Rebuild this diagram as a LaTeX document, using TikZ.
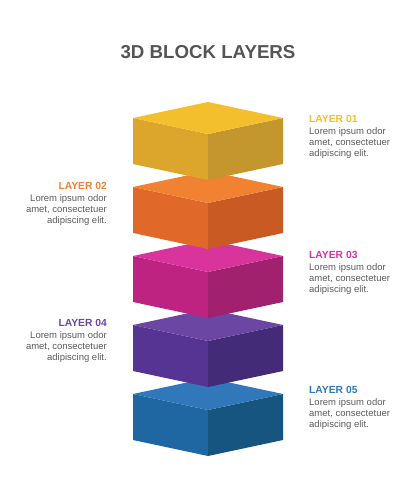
\documentclass[tikz,border=0pt]{standalone}
\usepackage{fontspec}
\setmainfont{Liberation Sans}
\usetikzlibrary{positioning}
\definecolor{ttl}{HTML}{555555}
\definecolor{bodytxt}{HTML}{5C5C5C}
\definecolor{yelT}{HTML}{F3BF2C}
\definecolor{yelL}{HTML}{DCA52B}
\definecolor{yelR}{HTML}{C4972E}
\definecolor{orgT}{HTML}{F08232}
\definecolor{orgL}{HTML}{E0692A}
\definecolor{orgR}{HTML}{C95A24}
\definecolor{magT}{HTML}{D9339C}
\definecolor{magL}{HTML}{BF2381}
\definecolor{magR}{HTML}{A1216F}
\definecolor{purT}{HTML}{6B46A3}
\definecolor{purL}{HTML}{553493}
\definecolor{purR}{HTML}{432B78}
\definecolor{bluT}{HTML}{3078B9}
\definecolor{bluL}{HTML}{1E67A2}
\definecolor{bluR}{HTML}{16557F}
\tikzset{
	layer-title/.style={font=\bfseries\fontsize{10.3}{12}\selectfont, text=#1, inner sep=0pt},
	layer-body/.style={font=\fontsize{9.5}{11}\selectfont, text=bodytxt, inner sep=0pt},
	face/.style={fill=#1, draw=none},
}
% one block: apex y, top, left, right colours
\newcommand{\layerblock}[4]{
	\fill[face=#3] (133,#1+16) -- (208,#1+32) -- (208,#1+78) -- (133,#1+62) -- cycle;
	\fill[face=#4] (208,#1+32) -- (283,#1+16) -- (283,#1+62) -- (208,#1+78) -- cycle;
	\fill[face=#2] (208,#1) -- (283,#1+16) -- (208,#1+32) -- (133,#1+16) -- cycle;
}
\begin{document}
\begin{tikzpicture}[x=1pt,y=-1pt]

\useasboundingbox[fill=white] (0,0) rectangle (417,500);

% title
\node[font=\bfseries\fontsize{18.7}{20}\selectfont, text=ttl] (title) at (208,52) {3D BLOCK LAYERS};

% blocks, bottom to top
\layerblock{378}{bluT}{bluL}{bluR}
\layerblock{309}{purT}{purL}{purR}
\layerblock{240}{magT}{magL}{magR}
\layerblock{171}{orgT}{orgL}{orgR}
\layerblock{102}{yelT}{yelL}{yelR}

% labels right
\node[layer-title=yelT, anchor=west] (lab1) at (309,119) {LAYER 01};
\node[layer-body, align=left, below right=5pt and 0pt of lab1.south west] (txt1) {Lorem ipsum odor\\amet, consectetuer\\adipiscing elit.};

\node[layer-title=magT, anchor=west] (lab3) at (309,255) {LAYER 03};
\node[layer-body, align=left, below right=5pt and 0pt of lab3.south west] (txt3) {Lorem ipsum odor\\amet, consectetuer\\adipiscing elit.};

\node[layer-title=bluT, anchor=west] (lab5) at (309,390) {LAYER 05};
\node[layer-body, align=left, below right=5pt and 0pt of lab5.south west] (txt5) {Lorem ipsum odor\\amet, consectetuer\\adipiscing elit.};

% labels left
\node[layer-title=orgT, anchor=east] (lab2) at (107,186) {LAYER 02};
\node[layer-body, align=right, below left=5pt and 0pt of lab2.south east] (txt2) {Lorem ipsum odor\\amet, consectetuer\\adipiscing elit.};

\node[layer-title=purT, anchor=east] (lab4) at (107,323) {LAYER 04};
\node[layer-body, align=right, below left=5pt and 0pt of lab4.south east] (txt4) {Lorem ipsum odor\\amet, consectetuer\\adipiscing elit.};

\end{tikzpicture}
\end{document}
